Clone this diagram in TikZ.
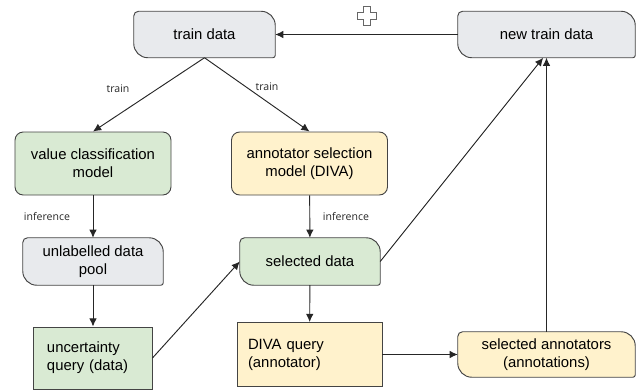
\documentclass[tikz,border=0pt]{standalone}
\usepackage{fontspec}
\setmainfont{Liberation Sans}
\newfontfamily\labelfont{Open Sans}
\usepackage{xcolor}
\usetikzlibrary{positioning, arrows.meta, backgrounds}

\definecolor{boxgray}{RGB}{232,234,237}
\definecolor{boxgreen}{RGB}{217,234,211}
\definecolor{boxyellow}{RGB}{255,242,204}
\definecolor{edgegray}{RGB}{68,68,68}

% outline of a stored-data node, drawn behind its text
\newcommand{\datashape}[2]{%
  \begin{pgfonlayer}{background}
    \draw[x=1cm, y=1cm, fill=#2, draw=edgegray, line width=0.8pt]
      ([xshift=4pt]#1.north west) -- ([xshift=-12pt]#1.north east)
      arc[start angle=90, end angle=0, radius=12pt]
      -- ([yshift=2pt]#1.south east)
      arc[start angle=0, end angle=-90, radius=2pt]
      -- ([xshift=12pt]#1.south west)
      arc[start angle=270, end angle=180, radius=12pt]
      -- ([yshift=-4pt]#1.north west)
      arc[start angle=180, end angle=90, radius=4pt] -- cycle;
  \end{pgfonlayer}}

\tikzset{
  maintext/.style={font=\fontsize{12.7}{15.4}\selectfont},
  model/.style={maintext, draw=edgegray, line width=0.8pt, rounded corners=7pt,
    align=center, inner sep=0pt, minimum width=4.68cm, minimum height=1.89cm},
  datanode/.style={maintext, align=center, inner sep=0pt, minimum height=1.38cm},
  query/.style={maintext, draw=edgegray, line width=0.8pt, align=left, inner ysep=0pt},
  steplabel/.style={font=\labelfont\fontsize{9}{11}\selectfont, text=black!85},
  flow/.style={->, draw=black!85, line width=0.8pt}
}

\begin{document}
\begin{tikzpicture}[x=0.03cm, y=-0.03cm, >={Latex[length=7pt,width=6.5pt]}]
        \path[use as bounding box, clip] (0,0) rectangle (643,389);

        \node[datanode, minimum width=4.23cm] (train) at (204.5,34.5) {train data};
        \datashape{train}{boxgray}
        \node[datanode, minimum width=5.31cm] (newtrain) at (546.5,34.5) {new train data};
        \datashape{newtrain}{boxgray}

        \node[model, fill=boxgreen] (valcls) at (93,163.5) {value classification\\model};
        \node[model, fill=boxyellow] (annsel) at (309.5,163.5) {annotator selection\\model (DIVA)};

        \node[datanode, minimum width=4.2cm, minimum height=1.41cm] (unlab) at (93,261.5) {unlabelled data\\pool};
        \datashape{unlab}{boxgray}
        \node[datanode, minimum width=4.2cm, minimum height=1.41cm] (seldata) at (310,261.5) {selected data};
        \datashape{seldata}{boxgreen}

        \node[query, fill=boxgreen, inner xsep=0.42cm, text width=2.73cm, minimum height=1.86cm] (uncq) at (92.5,358) {uncertainty\\query (data)};
        \node[query, fill=boxyellow, inner xsep=0.33cm, text width=3.69cm, minimum height=1.92cm] (divaq) at (309.5,354.5) {DIVA query\\(annotator)};

        \node[datanode, minimum width=5.31cm, minimum height=1.35cm] (selann) at (546.5,354.5) {selected annotators\\(annotations)};
        \datashape{selann}{boxyellow}

        % plus sign above the feedback edge
        \draw[fill=white, draw=black!60, line width=0.6pt]
          (363,6) -- (370,6) -- (370,12.5) -- (376,12.5) -- (376,19) -- (370,19)
          -- (370,25) -- (363,25) -- (363,19) -- (357,19) -- (357,12.5) -- (363,12.5) -- cycle;

        \draw[flow] (newtrain) -- (train);
        \draw[flow] (train.south) -- (valcls.north);
        \draw[flow] (train.south) -- (annsel.north);
        \node[steplabel] (trainlbl1) at (118,89) {train};
        \node[steplabel] (trainlbl2) at (267,87) {train};

        \draw[flow] (valcls) -- (unlab);
        \draw[flow] (annsel) -- (seldata);
        \node[steplabel] (inflbl1) at (47,217) {inference};
        \node[steplabel] (inflbl2) at (346,217) {inference};

        \draw[flow] (unlab.south) -- (unlab.south |- uncq.north);
        \draw[flow] (uncq.east) -- (seldata.west);
        \draw[flow] (seldata) -- (divaq);
        \draw[flow] (divaq) -- (selann);
        \draw[flow] (selann) -- (newtrain);
        \draw[flow] (seldata.east) -- ([xshift=-0.1cm]newtrain.south);
    \end{tikzpicture}
\end{document}
